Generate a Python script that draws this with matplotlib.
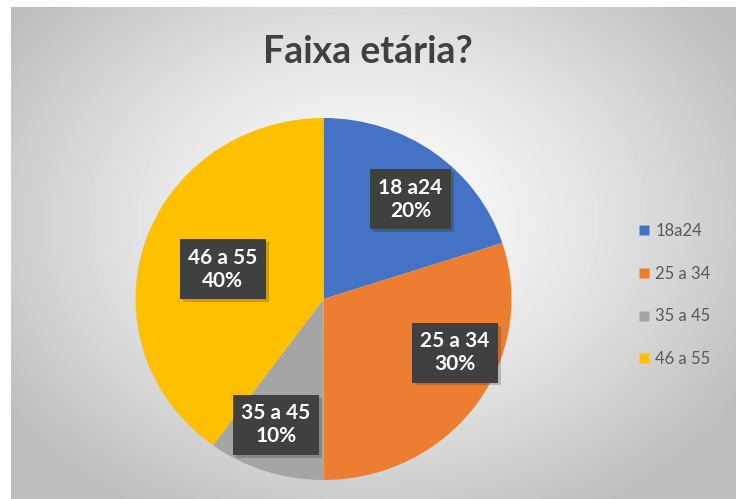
import matplotlib.pyplot as plt
import matplotlib.patheffects as pe
import numpy as np
from matplotlib.lines import Line2D

labels = ["18 a24", "25 a 34", "35 a 45", "46 a 55"]
legend_labels = ["18a24", "25 a 34", "35 a 45", "46 a 55"]
values = [20, 30, 10, 40]
colors = ["#4472C4", "#ED7D31", "#A5A5A5", "#FFC000"]

# label placement (distance from centre, angle offset in degrees), like excel's best fit
label_dist = [0.72, 0.76, 0.74, 0.56]
label_shift = [-4, 13, -2, 1]

W, H = 736, 499
fig = plt.figure(figsize=(W / 100, H / 100), dpi=100)
fig.patch.set_facecolor("white")

# radial gradient background
bg = fig.add_axes([11 / W, 0, 1 - 11 / W, 1 - 7 / H])
yy, xx = np.mgrid[0:H - 7, 11:W]
d = np.sqrt(((xx - 368) / 430.0) ** 2 + ((yy - 215) / 330.0) ** 2)
shade = np.clip(253 - 62 * d ** 1.4, 190, 253) / 255.0
bg.imshow(shade, cmap="gray", vmin=0, vmax=1, aspect="auto", interpolation="bilinear")
bg.set_axis_off()

cx, cy, rx, ry = 323.5, 299, 188, 181
ax = fig.add_axes([(cx - rx) / W, (H - cy - ry) / H, 2 * rx / W, 2 * ry / H])
wedges, _ = ax.pie(values, colors=colors, startangle=90, counterclock=False,
                   wedgeprops=dict(linewidth=0))
ax.set_aspect("auto")
ax.set_xlim(-1, 1)
ax.set_ylim(-1, 1)

for w, lab, v, dist, sh in zip(wedges, labels, values, label_dist, label_shift):
    ang = np.deg2rad((w.theta1 + w.theta2) / 2 + sh)
    t = ax.text(dist * np.cos(ang), dist * np.sin(ang), f"{lab}\n{v}%",
                ha="center", va="center", fontsize=15, fontweight="bold",
                family="Lato", color="white", linespacing=1.2,
                bbox=dict(boxstyle="square,pad=0.4", fc="#404040", ec="none"))
    t.get_bbox_patch().set_path_effects(
        [pe.SimplePatchShadow(offset=(2, -2), alpha=0.2), pe.Normal()])

fig.text(0.5, 1 - 52 / H, "Faixa etária?", ha="center", va="center",
         fontsize=27, family="Lato", fontweight="bold", color="#404040")

handles = [Line2D([], [], marker="s", linestyle="none", markersize=7,
                  markerfacecolor=c, markeredgecolor="none") for c in colors]
leg = fig.legend(handles, legend_labels, loc="center left",
                 bbox_to_anchor=(622 / W, 1 - 295 / H), frameon=False,
                 prop=dict(family="Lato", size=12), labelcolor="#595959",
                 handlelength=0.8, handletextpad=0.3, labelspacing=1.6)

fig.savefig("out.png", dpi=100)
